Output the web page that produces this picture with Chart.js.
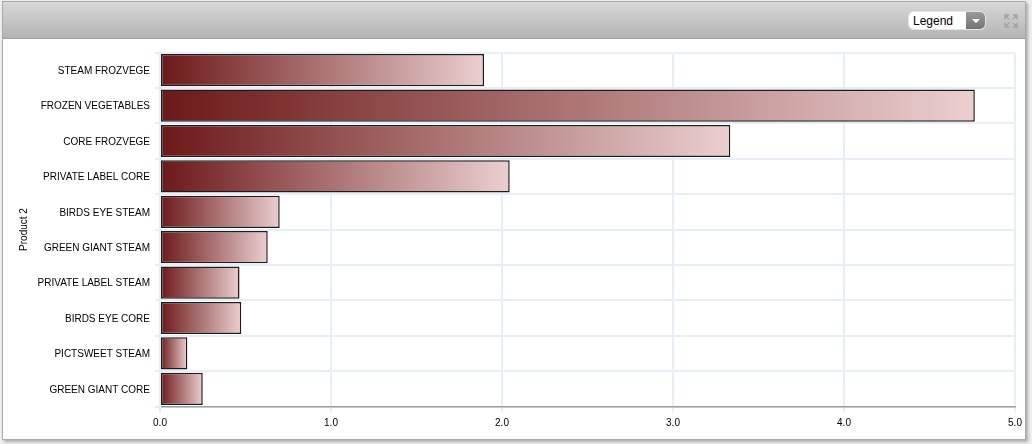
<!DOCTYPE html>
<html>
<head>
<meta charset="utf-8">
<style>
  html, body { margin: 0; padding: 0; background: #fff; overflow: hidden; }
  #page { position: relative; width: 1032px; height: 444px; background: #f0f0f0; font-family: "Liberation Sans", Arial, sans-serif; }
  #panel { position: absolute; left: 2px; top: 1px; width: 1022px; height: 437px; background: #fff; border: 1px solid #a8a8a8; box-shadow: 2px 2px 3px #aaa; box-sizing: content-box; }
  #header { position: absolute; left: 0; top: 0; width: 100%; height: 36px; background: linear-gradient(#d8d8d8, #b4b4b4); border-bottom: 1px solid #a0a0a0; }
  #legend { position: absolute; left: 905px; top: 9px; width: 78px; height: 19px; box-sizing: border-box; border: 1px solid #e4e4e4; border-radius: 6px; background: #fff; font-size: 12px; line-height: 19px; text-indent: 4px; color: #000; overflow: hidden; }
  #legend b { position: absolute; right: 0; top: 0; width: 19px; height: 19px; background: linear-gradient(#9a9a9a, #707070); }
  #legend b::after { content: ""; position: absolute; left: 6px; top: 7px; border: 4px solid transparent; border-top: 4px solid #fff; }
  #expand { position: absolute; left: 1001px; top: 12px; width: 14px; height: 14px; }
  #chart-box { position: absolute; left: 0; top: 0; width: 1032px; height: 444px; }
</style>
</head>
<body>
<div id="page">
  <div id="panel">
    <div id="header">
      <div id="legend">Legend<b></b></div>
      <svg id="expand" viewBox="0 0 15 15" fill="#a4a4a4" stroke="#a4a4a4" stroke-width="1.2">
        <path d="M1 5V1h4zM1 1l5 5M14 5V1h-4zM14 1l-5 5M1 10v4h4zM1 14l5-5M14 10v4h-4zM14 14l-5-5"/>
      </svg>
    </div>
  </div>
  <div id="chart-box"><canvas id="chart" width="1032" height="444"></canvas></div>
</div>
<script src="https://cdn.jsdelivr.net/npm/chart.js@4"></script>
<script>
// Values
const categories = [
  'STEAM FROZVEGE', 'FROZEN VEGETABLES', 'CORE FROZVEGE', 'PRIVATE LABEL CORE', 'BIRDS EYE STEAM',
  'GREEN GIANT STEAM', 'PRIVATE LABEL STEAM', 'BIRDS EYE CORE', 'PICTSWEET STEAM', 'GREEN GIANT CORE'
];
const values = [1.895, 4.765, 3.335, 2.045, 0.7, 0.63, 0.465, 0.475, 0.16, 0.25];
const axisTitle = 'Product 2';
const gridColor = '#e6eef8';

// Each bar fades from dark red at the axis to pale pink at its own end
function barGradient(context) {
  const chart = context.chart;
  if (!chart.chartArea || context.parsed === undefined) return '#6e1a1a';
  const x = chart.scales.x;
  const g = chart.ctx.createLinearGradient(x.getPixelForValue(0), 0, x.getPixelForValue(context.parsed.x), 0);
  g.addColorStop(0, '#6c1818');
  g.addColorStop(1, '#ebcfcf');
  return g;
}

new Chart(document.getElementById('chart').getContext('2d'), {
  type: 'bar',
  data: {
    labels: categories,
    datasets: [{
      data: values,
      backgroundColor: barGradient,
      borderColor: '#1c1c1c',
      borderWidth: 1.5,
      borderSkipped: false,
      barPercentage: 0.91,
      categoryPercentage: 1
    }]
  },
  options: {
    indexAxis: 'y',
    responsive: false,
    animation: false,
    devicePixelRatio: 1,
    layout: { padding: { top: 52.5, right: 17, bottom: 0, left: 0 } },
    plugins: { legend: { display: false }, tooltip: { enabled: false } },
    scales: {
      x: {
        min: 0,
        max: 5,
        afterFit: axis => { axis.height = 37.5; },
        ticks: {
          stepSize: 1,
          maxRotation: 0,
          padding: 5,
          color: '#000',
          font: { family: '"Liberation Sans", Arial', size: 10 },
          callback: v => v.toFixed(1)
        },
        grid: { color: gridColor, lineWidth: 2, tickLength: 6 },
        border: { color: '#a0a0a0', width: 1.5 }
      },
      y: {
        afterFit: axis => { axis.width = 160; },
        ticks: {
          padding: 5,
          labelOffset: 1,
          color: '#000',
          autoSkip: false,
          font: { family: '"Liberation Sans", Arial', size: 10 }
        },
        grid: { color: gridColor, lineWidth: 2, tickLength: 5 },
        border: { color: gridColor, width: 2 },
        title: {
          display: true,
          text: axisTitle,
          color: '#000',
          padding: { top: 18, bottom: 0 },
          font: { family: '"Liberation Sans", Arial', size: 10 }
        }
      }
    }
  }
});
</script>
</body>
</html>
